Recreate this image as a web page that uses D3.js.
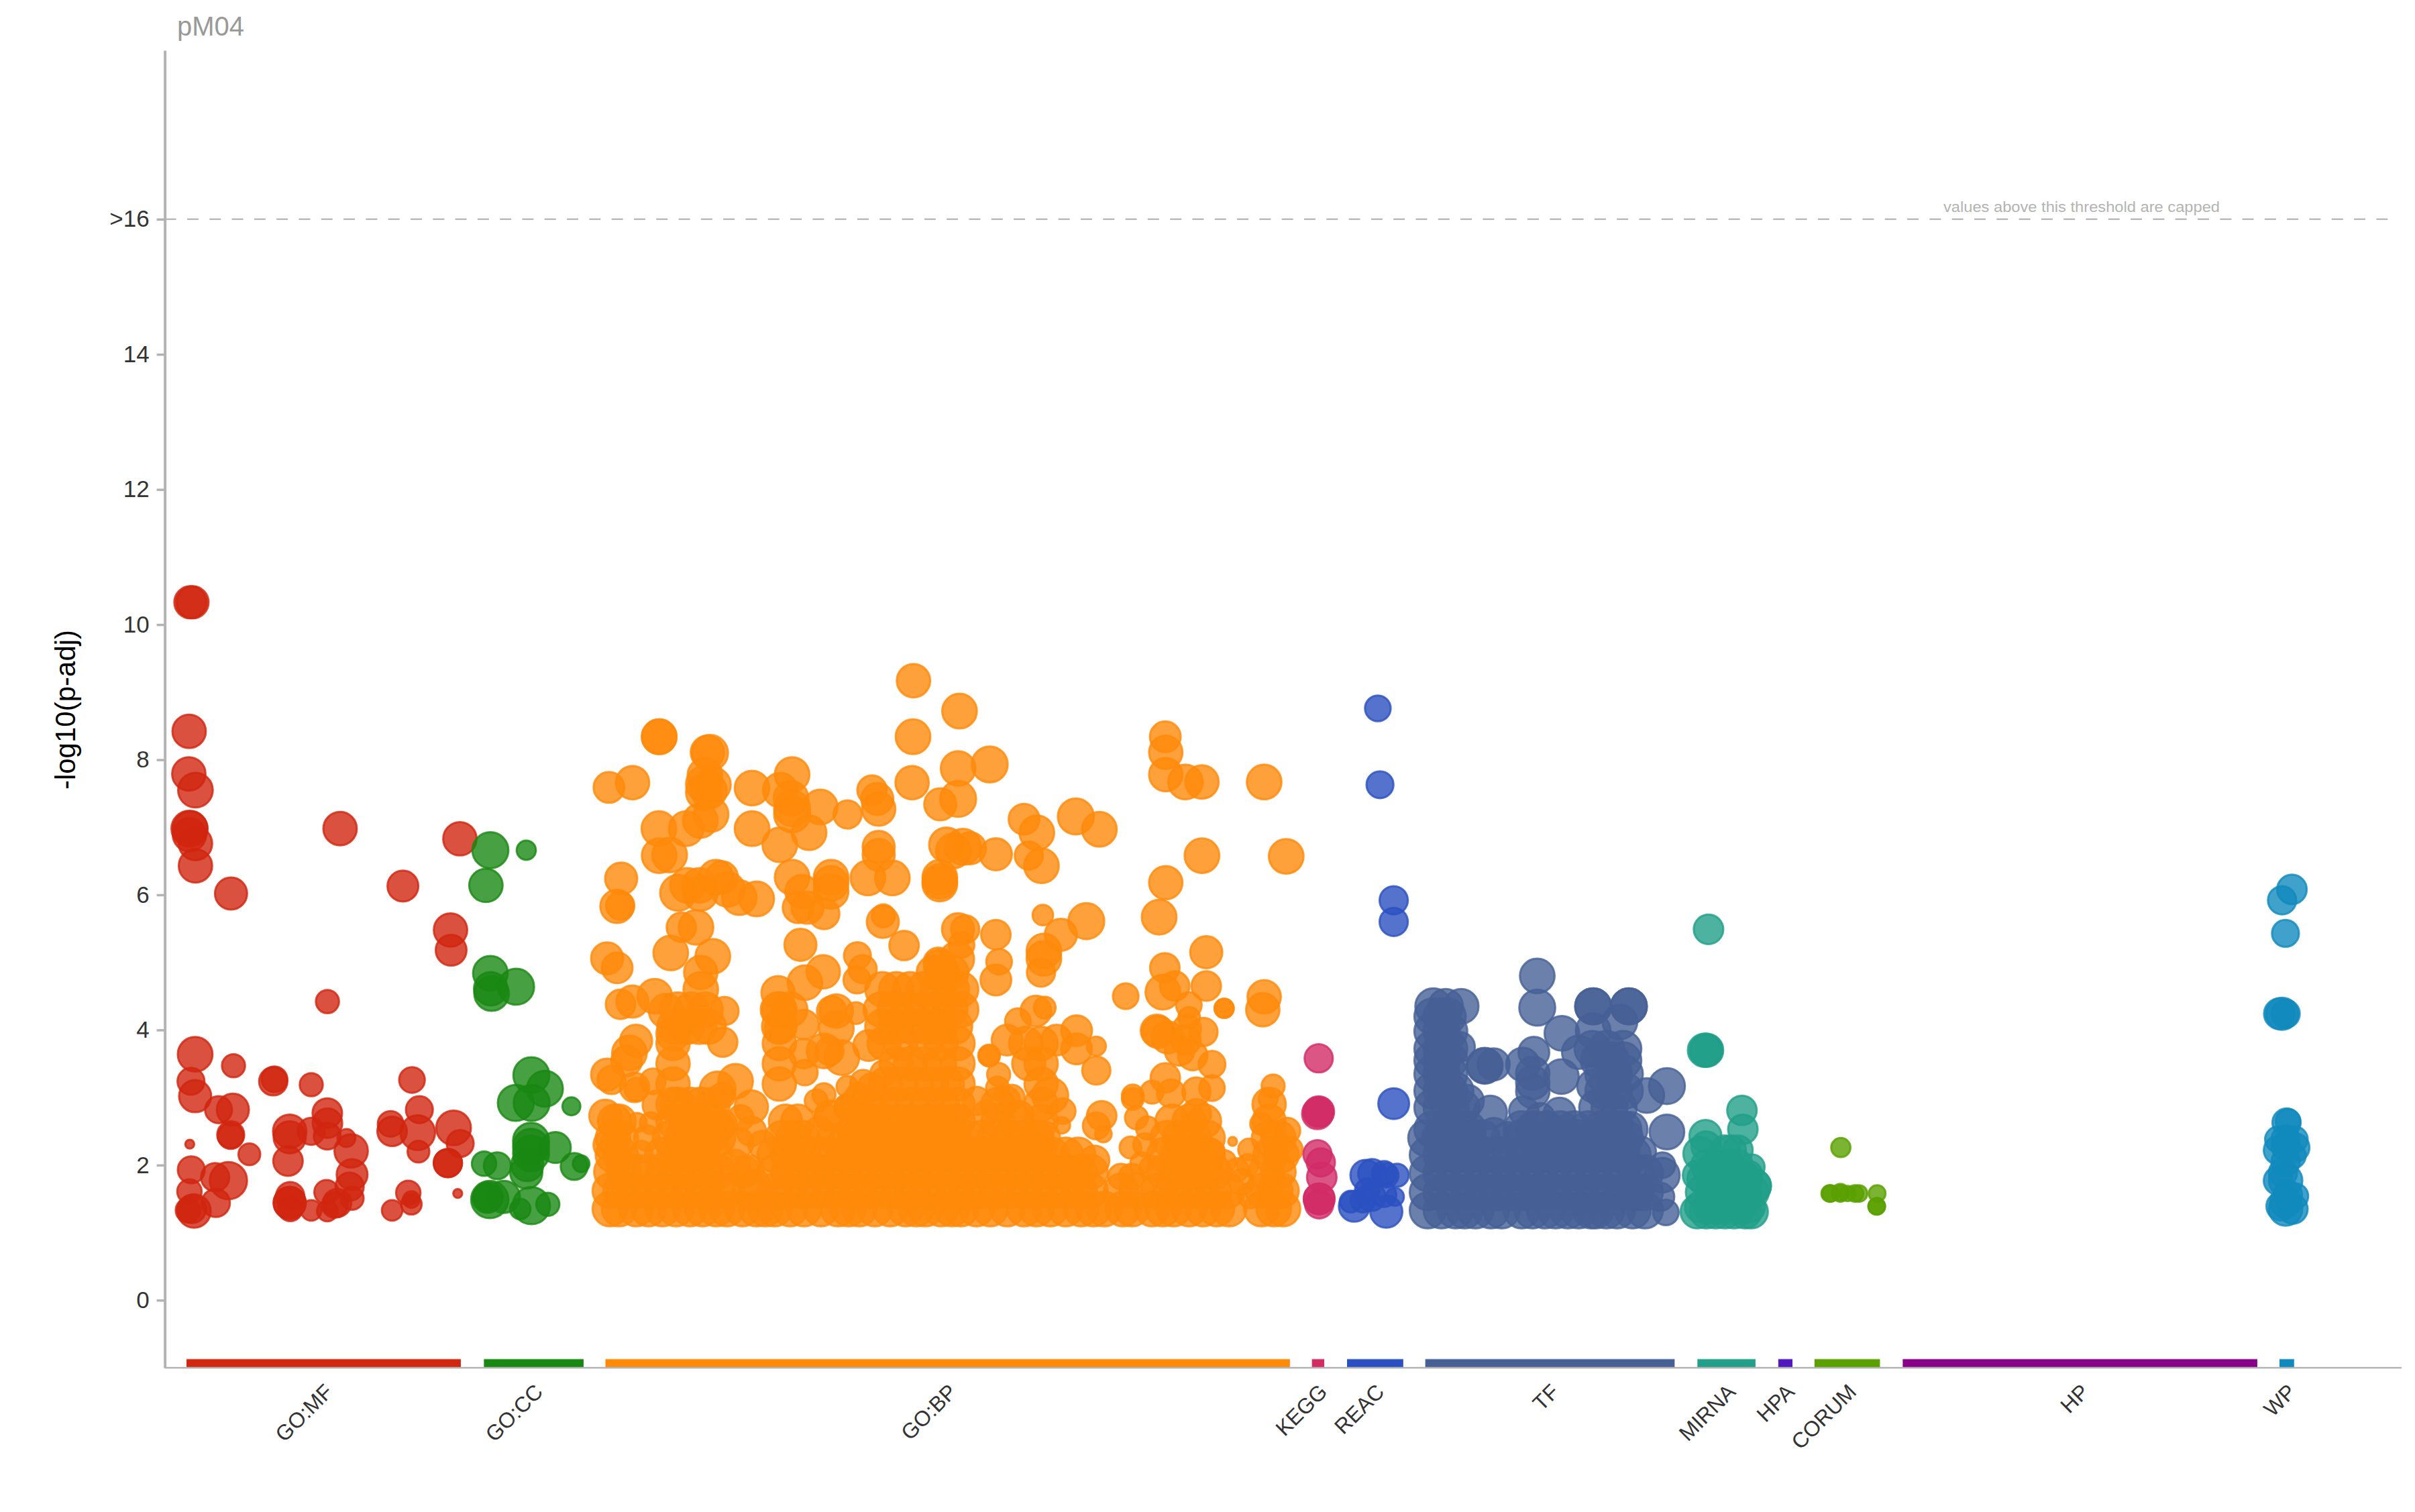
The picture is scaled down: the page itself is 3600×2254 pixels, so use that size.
<!DOCTYPE html>
<html><head><meta charset="utf-8">
<script src="https://cdn.jsdelivr.net/npm/d3@7"></script>
<style>html,body{margin:0;padding:0;background:#fff}svg{display:block}text{font-family:"Liberation Sans",Arial,sans-serif}</style>
</head><body><div id="chart"></div>
<script>
const sources=["GO:MF","GO:CC","GO:BP","KEGG","REAC","TF","MIRNA","HPA","CORUM","HP","WP"];
const sourceStarts=[121.1,314.2,393.1,851.8,874.6,925.4,1102.1,1154.6,1178.1,1235.4,1480];
const sourceEnds=[299.2,378.9,837.5,859.8,911.1,1087.3,1139.8,1163.8,1220.6,1465.6,1489.5];
const sourceColors=["#d1260f","#198813","#ff8a0a","#d22c66","#2a50c1","#466096","#219f88","#5018bd","#5aa000","#880088","#1089bd"];
const yTicks=[0,2,4,6,8,10,12,14,16];

// [term position, -log10(p-adj), term size score]
const goMfPoints=[[123.6,10.33,25],[125,10.33,25],[122.8,8.42,26],[122.6,7.79,26],[126.9,7.55,27],[123,6.98,28],[123.5,6.98,27],[123,6.89,26],[126.9,6.76,26],[126.9,6.43,26],[150,6.02,25],[220.8,6.98,26],[261.6,6.13,24],[298.6,6.83,26],[292.5,5.48,26],[292.9,5.18,24],[212.6,4.42,18],[126.7,3.64,27],[151.6,3.47,18],[124,3.24,21],[126.7,3.02,25],[177.4,3.24,22],[178.2,3.27,20],[202.1,3.19,18],[267.5,3.26,20],[212.5,2.77,23],[212.6,2.62,23],[272.3,2.82,21],[141.9,2.82,21],[151.2,2.82,25],[253.6,2.61,20],[254.6,2.5,23],[271.2,2.48,27],[294.5,2.55,27],[188.1,2.5,26],[188.1,2.41,25],[202.1,2.5,21],[212.5,2.43,21],[224.9,2.4,14],[228,2.21,26],[187,2.06,23],[149.8,2.45,21],[149.8,2.43,20],[161.9,2.16,17],[123.2,2.31,7],[124.2,1.93,21],[271.7,2.2,17],[298.8,2.32,21],[290.8,2.03,22],[290.8,2.03,22],[228.6,1.86,24],[139.7,1.82,22],[148.3,1.77,29],[123,1.61,19],[188.4,1.54,22],[212,1.6,19],[227,1.68,22],[228.6,1.51,18],[265.1,1.59,19],[297.2,1.58,7],[140.1,1.44,22],[188.1,1.44,25],[188.1,1.44,25],[188.5,1.35,19],[202.1,1.33,16],[212.5,1.32,16],[218.9,1.44,22],[217.4,1.41,20],[254.6,1.33,16],[267.1,1.42,16],[267.1,1.49,13],[122,1.33,19],[126,1.32,26],[124.6,1.35,22]];
const goCcPoints=[[318.4,6.66,28],[341.7,6.66,15],[315.5,6.14,26],[318.4,4.84,27],[318.6,4.61,26],[319.2,4.54,27],[335.1,4.64,28],[345,3.33,28],[353.8,3.13,28],[334.9,2.92,28],[345.2,2.92,28],[371,2.87,14],[344.8,2.36,28],[344.8,2.27,28],[344.8,2.17,28],[360.6,2.26,24],[341.7,1.89,25],[342.3,2,25],[314.3,2.02,19],[322.9,1.99,21],[372.8,1.98,21],[377.3,2.02,13],[316.4,1.51,23],[316.9,1.53,23],[318,1.49,29],[327.1,1.53,25],[337.8,1.35,16],[345,1.4,29],[355.7,1.42,18]];
const goBpPoints=[[593.1,9.17,26],[623,8.72,27],[592.8,8.34,27],[428,8.34,27],[428,8.34,27],[642.6,7.93,28],[622.1,7.87,27],[461,8.1,28],[459.3,8.11,26],[592.2,7.66,26],[395.4,7.59,24],[410.7,7.66,26],[488.3,7.58,27],[514.3,7.78,27],[506.6,7.55,27],[457.7,7.77,27],[457.1,7.64,28],[457.1,7.52,28],[460.2,7.54,28],[463.2,7.63,27],[513.6,7.43,27],[514.3,7.28,28],[514.3,7.19,28],[532.6,7.3,27],[566.2,7.55,23],[569.6,7.42,25],[570.5,7.27,26],[550.3,7.19,22],[610.5,7.34,25],[622.1,7.42,28],[756.6,8.34,24],[756.9,8.11,26],[756.9,7.78,26],[769.7,7.67,27],[780.4,7.67,26],[820.8,7.67,27],[427.8,6.98,27],[445.5,6.98,27],[461.7,7.19,27],[454.7,7.1,27],[488.3,6.98,27],[525.3,6.92,27],[506.3,6.74,27],[664.9,7.12,24],[673.2,6.92,27],[698.5,7.16,28],[713.8,6.97,27],[570.5,6.71,25],[570.5,6.59,25],[614.5,6.74,27],[625.2,6.71,28],[629.8,6.69,25],[619,6.65,27],[646.6,6.6,25],[668,6.58,22],[676.2,6.43,27],[428,6.58,27],[434.8,6.59,27],[780.4,6.58,27],[835.1,6.57,27],[403.3,6.24,25],[400.6,5.83,26],[402.7,5.84,22],[756.9,6.18,26],[752.6,5.67,27],[514.3,6.26,27],[539.6,6.26,27],[539.6,6.17,27],[539.6,6.05,27],[520.7,6.05,26],[524.3,5.81,25],[518.2,5.81,24],[535,5.72,24],[563.5,6.25,27],[579.4,6.25,27],[610.2,6.26,27],[610.2,6.2,27],[610.2,6.16,27],[440.3,6.03,28],[446.4,6.14,27],[454.1,6.14,27],[454.7,6.02,27],[464.8,6.26,27],[468.7,6.26,25],[472.4,6.08,27],[480,5.96,27],[491.3,5.94,27],[442.4,5.52,23],[451.9,5.52,27],[573.2,5.6,25],[573.5,5.69,18],[677.1,5.7,16],[705.3,5.61,28],[688.8,5.41,25],[622,5.49,25],[626.7,5.49,22],[624.3,5.26,20],[646.6,5.41,23],[519.7,5.26,25],[587,5.25,23],[394.2,5.06,25],[400.7,4.92,24],[435.5,5.14,27],[462.8,5.09,27],[556.7,5.1,21],[560.1,4.9,22],[556.4,4.74,21],[534.5,4.86,26],[522.6,4.7,27],[505.2,4.55,26],[609.3,5,23],[610.3,4.95,25],[621.2,5.05,27],[677.8,5.17,27],[677.8,5.06,27],[675.9,4.85,22],[648.7,5.01,20],[646.6,4.74,24],[783.2,5.15,25],[756.3,4.92,23],[783.2,4.65,23],[762.7,4.65,23],[755,4.56,27],[730.9,4.5,20],[794.8,4.32,15],[794.8,4.32,15],[820.8,4.49,26],[819.9,4.3,26],[771.9,4.37,20],
// lower band, single terms
[402.9,4.38,23],[410.6,4.42,25],[425.1,4.5,27],[432.6,4.28,27],[470.4,4.28,22],[469.2,3.82,23],[437,3.94,26],[413,3.84,25],[408.7,3.66,27],[406.8,3.54,24],[394.2,3.34,25],[397,3.26,22],[413,3.12,18],[412,3.15,23],[477.6,3.24,27],[466,3.12,28],[487.8,2.86,26],[479.8,2.33,23],[467.5,2.56,23],[393,2.73,25],[394.9,2.3,23],[483,1.9,25],[490,1.7,25],[477,2.0,24],
[413.7,2.63,15],[422.5,2.62,17],[426.8,2.89,23],[423.9,3.24,20],[416.6,2.2,17],[420,2.4,20],[468.9,2.6,23],[469,3.03,20],[487.8,2.5,23],[486.3,1.93,23],[481,2.7,20],[495,2.3,22],[537.2,2.7,20],[532,2.5,23],[550.2,2.53,18],[558.9,2.6,23],[550.2,2.86,20],[557.5,3.03,20],[556,2.9,25],[565,2.85,25],[566,3.15,22],[540,2.4,23],[547,2.35,22],[530,2.95,18],
[505.2,4.3,27],[506,4.02,23],[522,4.08,23],[522.6,3.37,20],[522,3.65,23],[543,4.28,26],[540,4.28,23],[555.8,4.25,17],[543,4.02,27],[538.6,3.69,22],[546.6,3.59,27],[535,3.69,27],[564,3.77,24],[535,3.04,18],[538.6,2.74,23],[550.2,3.16,17],[560.4,3.22,20],[550,2.85,20],[573.5,3.36,20],
[660.9,4.13,20],[653.9,3.85,24],[642.2,3.62,17],[642.2,3.62,16],[648.4,3.34,18],[647.7,3.14,18],[653.1,2.96,22],[672.6,4.28,24],[678.3,4.33,17],[681.9,3.03,28],[699,3.99,24],[699,3.72,24],[711.8,3.76,15],[711.8,3.4,22],[686,3.85,24],[715.3,2.73,23],[711.8,2.58,21],[716.4,2.46,13],[710.7,2.07,23],[689.4,2.59,13],[727.8,1.83,20],[734.8,1.83,20],[735.5,3.03,17],[735.5,2.98,17],[737.9,2.7,18],[734,2.26,17],[743.3,2.3,18],[748,3.08,18],[639.9,2.76,20],[661.7,2.73,23],[657,3,20],[634,2.95,22],[690,2.8,20],[741,2.03,17],[745,2.55,18],[748,1.95,20],
[751.1,3.99,25],[752,3.97,25],[758.1,3.89,25],[770.6,4.02,22],[774.4,3.62,23],[765.9,3.69,23],[770,3.85,23],[772.1,4.18,17],[781.4,3.97,22],[786.9,3.49,21],[786.9,3.14,20],[756.6,3.29,23],[760.4,3.06,22],[776.8,3.09,22],[776.8,2.76,23],[787.7,2.2,18],[800.3,2.35,7],[810.2,2,17],[826.6,3.17,18],[823.4,2.98,15],[818.8,2.61,17],[835.9,2.51,20],[806,1.75,20],[812,1.55,20],[803.2,1.93,18],[811,2.23,17],[837.4,2.23,20],[795,2.05,18]];
const goBpRows=[
[1.35,27,[396,402,413,421,430,439,448,456,465,472,482,491,497,503,513,522,533,544,551,558,568,578,588,595,601,611,618,624,634,643,654,665,673,682,692,702,710,717,729,735,748,755,762,772,781,790,798,819,827,833]],
[1.62,27,[396,403,412,421,430,439,448,457,466,472,487,503,512,521,530,539,548,557,566,575,584,593,602,611,620,629,638,647,656,665,674,683,692,701,708,728,738,752,761,770,779,788,797,820,828,832]],
[1.9,27,[397,405,413,422,431,440,449,458,466,503,512,521,530,539,548,557,566,575,584,593,602,611,620,629,638,647,656,665,674,683,692,701,708,756,765,774,783,788,822,830]],
[2.15,27,[398,403,430,438,447,456,464,503,512,521,530,539,548,557,566,575,584,593,602,611,620,629,638,647,656,665,674,683,692,700,756,765,774,784,825,832]],
[2.4,27,[398,403,435,443,452,460,466,508,515,521,556,565,574,583,592,601,610,619,628,637,646,655,664,673,677,758,766,775,784,824,830]],
[2.65,26,[399,402,437,445,453,462,510,518,557,566,575,584,593,602,611,620,622,648,660,676,761,772,782,824]],
[2.9,26,[437,440,448,455,463,572,582,592,602,612,622,648,676,824]],
[3.2,26,[437,506,575,585,595,605,615,622,676]],
[3.5,26,[437,506,582,591,600,610,622,668,676]],
[3.8,26,[437,506,574,585,601,611,622,666,676]],
[4.05,27,[438,446,454,460,506,573,582,592,601,610,620]],
[4.3,27,[440,449,458,506,513,572,581,590,599,608,617,624]],
[4.6,27,[455,573,582,591,600,609,618,624]],
[4.85,26,[455,606,612,618]]];

const keggPoints=[[856.2,3.58,22],[856.2,2.79,24],[855.4,2.76,24],[856.2,2.79,23],[855.4,2.16,22],[857.6,2.04,22],[858.2,1.82,23],[856.5,1.5,24],[856.5,1.5,24],[856.5,1.42,22]];
const reacPoints=[[894.6,8.76,20],[896,7.63,21],[904.9,5.92,22],[904.9,5.6,22],[904.9,2.91,24],[886.8,1.85,24],[891,1.88,22],[898.7,1.88,19],[907.1,1.85,18],[900.1,1.85,19],[879.3,1.39,24],[877,1.46,17],[884.9,1.48,19],[890.4,1.53,22],[898.7,1.56,19],[905.7,1.53,14],[900.1,1.31,25],[887.6,1.62,19]];
const tfPoints=[[930.6,4.35,28],[938.6,4.35,27],[948.7,4.35,27],[998.1,4.8,27],[998.1,4.33,28],[1014.1,3.95,27],[1034.4,4.35,28],[1034.4,4.35,28],[1057.6,4.35,28],[1057.6,4.35,28],[1051.8,4.12,27],[1034.4,3.99,27],[1025,3.67,26],[995.9,3.67,24],[988.7,3.49,26],[964,3.47,28],[964,3.47,27],[969.8,3.49,25],[995.2,3.36,26],[995.2,3.22,26],[995.2,3.09,26],[1013.8,3.31,27],[1034.4,3.17,25],[1069.2,3.03,27],[1082.3,3.17,28],[1082.3,2.49,27],[967.6,2.78,26],[1012.6,2.76,25],[989.4,2.8,23],[1000,2.7,23],[1058.4,2.53,27],[1065.6,2.2,23],[1079.4,2,20],[1079.3,1.85,27],[1077.9,1.53,22],[1081.6,1.3,20],[948,3.75,23],[953,2.95,25],[970,2.46,25],[979,2.4,25]];
const tfRows=[
[1.33,28,[927,936,945,951,958,968,975,988,995,1003,1010,1018,1025,1033,1036,1043,1050,1060,1068]],
[1.6,28,[927,936,945,954,963,972,981,990,999,1008,1017,1026,1035,1044,1053,1062,1068]],
[1.88,28,[927,936,945,954,963,972,981,990,999,1008,1017,1026,1035,1044,1053,1062,1068]],
[2.15,28,[927,936,945,954,963,972,981,990,999,1008,1017,1026,1035,1044,1053,1060]],
[2.4,28,[926,935,944,953,962,988,997,1006,1015,1024,1033,1042,1051,1055]],
[2.53,28,[930,938,947,953,988,996,1004,1013,1022,1031,1040,1049,1054]],
[2.85,28,[930,936,942,949,1037,1045,1051]],
[3.1,28,[930,936,941,945,1041,1048,1055]],
[3.35,28,[930,936,941,1041,1048,1055]],
[3.55,28,[930,936,941,1038,1046,1054]],
[3.72,28,[930,936,941,1034,1043,1054]],
[3.98,28,[930,936,941]],
[4.2,28,[930,936,940]]];
const mirnaPoints=[[1109.3,5.49,23],[1108,3.7,26],[1106.7,3.7,26],[1108,3.7,25],[1131,2.81,23],[1131.6,2.53,23],[1107.3,2.43,25],[1107.7,2.28,23],[1128.4,2.22,23],[1119.8,2.22,23],[1124,2.22,23],[1103.8,2.17,26],[1137.4,1.97,20],[1135.8,1.87,20],[1102.2,1.85,23],[1139,1.69,26],[1139,1.69,26]];
const mirnaRows=[
[1.31,26,[1102,1108,1114,1120,1126,1133,1137]],
[1.38,24,[1104,1110,1117,1123,1130,1136]],
[1.6,25,[1105,1112,1119,1126,1133,1138]],
[1.8,25,[1106,1112,1119,1126,1133]],
[2.0,24,[1108,1114,1122,1128]]];
const corumPoints=[[1195.2,2.26,15],[1188.5,1.58,13],[1194.9,1.58,13],[1194.9,1.6,13],[1199.6,1.58,12],[1204.4,1.58,13],[1207,1.58,13],[1188,1.58,13],[1218.8,1.58,13],[1218.5,1.39,13],[1218.5,1.39,13]];
const wpPoints=[[1488.1,6.08,23],[1481.7,5.92,22],[1483.9,5.43,21],[1481.7,4.24,25],[1484,4.24,22],[1480,4.24,24],[1484.6,2.63,22],[1485.5,2.65,19],[1484,2.38,22],[1479,2.38,20],[1490,2.38,20],[1479,2.22,22],[1490.3,2.26,22],[1484,2.28,22],[1488.7,2.14,20],[1484,2.05,22],[1482.3,1.89,22],[1484,1.77,26],[1479,1.77,22],[1485.5,1.56,22],[1490.3,1.54,20],[1484,1.35,26],[1488.7,1.35,23],[1480.7,1.39,22],[1484,1.45,24]];
const hpaPoints=[],hpPoints=[];

const expand=(points,rows=[])=>points.concat(rows.flatMap(([v,s,xs])=>xs.map(x=>[x,v,s])));
const sourcePoints=[expand(goMfPoints),expand(goCcPoints),expand(goBpPoints,goBpRows),expand(keggPoints),expand(reacPoints),expand(tfPoints,tfRows),expand(mirnaPoints,mirnaRows),hpaPoints,expand(corumPoints),hpPoints,expand(wpPoints)];

const W=3600,H=2254;
const x=d3.scaleLinear().domain([0,1568]).range([0,W]);
const y=d3.scaleLinear().domain([-1,18.5]).range([2039,75]);
const size=d3.scaleLinear().domain([0,30]).range([0,28.8]);
const svg=d3.select("#chart").append("svg").attr("width",W).attr("height",H);
const axisGrey="#b3b3b3";

// threshold
svg.append("line").attr("x1",x(107)).attr("x2",x(1553)).attr("y1",y(16)).attr("y2",y(16))
  .attr("stroke","#bbb").attr("stroke-width",2.5).attr("stroke-dasharray","17 16.3");
svg.append("text").attr("x",2897).attr("y",316).attr("font-size",22.5).attr("fill","#b3b3b3").attr("textLength",412).attr("lengthAdjust","spacingAndGlyphs").text("values above this threshold are capped");

// points
sources.forEach((src,i)=>{
  svg.append("g").selectAll("circle").data(sourcePoints[i]).join("circle")
    .attr("cx",d=>x(d[0])).attr("cy",d=>y(d[1])).attr("r",d=>size(d[2]))
    .attr("fill",sourceColors[i]).attr("fill-opacity",.8)
    .attr("stroke",sourceColors[i]).attr("stroke-opacity",.8).attr("stroke-width",3);
});

// source bars
svg.append("g").selectAll("rect").data(sources).join("rect")
  .attr("x",(d,i)=>x(sourceStarts[i])).attr("width",(d,i)=>x(sourceEnds[i])-x(sourceStarts[i]))
  .attr("y",2027).attr("height",12).attr("fill",(d,i)=>sourceColors[i]);
svg.append("g").selectAll("line").data(sources).join("line")
  .attr("x1",(d,i)=>x(sourceStarts[i])).attr("x2",(d,i)=>x(sourceEnds[i]))
  .attr("y1",2026.5).attr("y2",2026.5).attr("stroke",(d,i)=>sourceColors[i]).attr("stroke-opacity",.75).attr("stroke-width",1.5);

// y axis
const gy=svg.append("g").attr("transform",`translate(${x(107)},0)`)
  .call(d3.axisLeft(y).tickValues(yTicks).tickSizeInner(12).tickSizeOuter(0).tickPadding(11).tickFormat(d=>d===16?">16":d));
gy.select(".domain").attr("stroke",axisGrey).attr("stroke-width",4);
gy.selectAll(".tick line").attr("stroke",axisGrey).attr("stroke-width",3.5);
gy.selectAll("text").attr("font-size",35).attr("fill","#333").style("font-family",'"Liberation Sans"');

// x axis
const centers=sources.map((s,i)=>(sourceStarts[i]+sourceEnds[i])/2);
const gx=svg.append("g").attr("transform","translate(0,2039)")
  .call(d3.axisBottom(x).tickValues(centers).tickSize(0).tickFormat((d,i)=>sources[i]));
gx.select(".domain").attr("d",`M${x(107)},0H3580`).attr("stroke",axisGrey).attr("stroke-width",2.5);
gx.selectAll("text").attr("font-size",32).attr("fill","#333").style("font-family",'"Liberation Sans"')
  .attr("text-anchor","end").attr("dy",0).attr("y",0)
  .attr("transform","translate(15,38) rotate(-45)");

// titles
svg.append("text").attr("x",264).attr("y",53).attr("font-size",40).attr("fill","#999").text("pM04");
svg.append("text").attr("transform","translate(112,1058) rotate(-90)").attr("text-anchor","middle")
  .attr("font-size",42).attr("fill","#000").text("-log10(p-adj)");
</script></body></html>
